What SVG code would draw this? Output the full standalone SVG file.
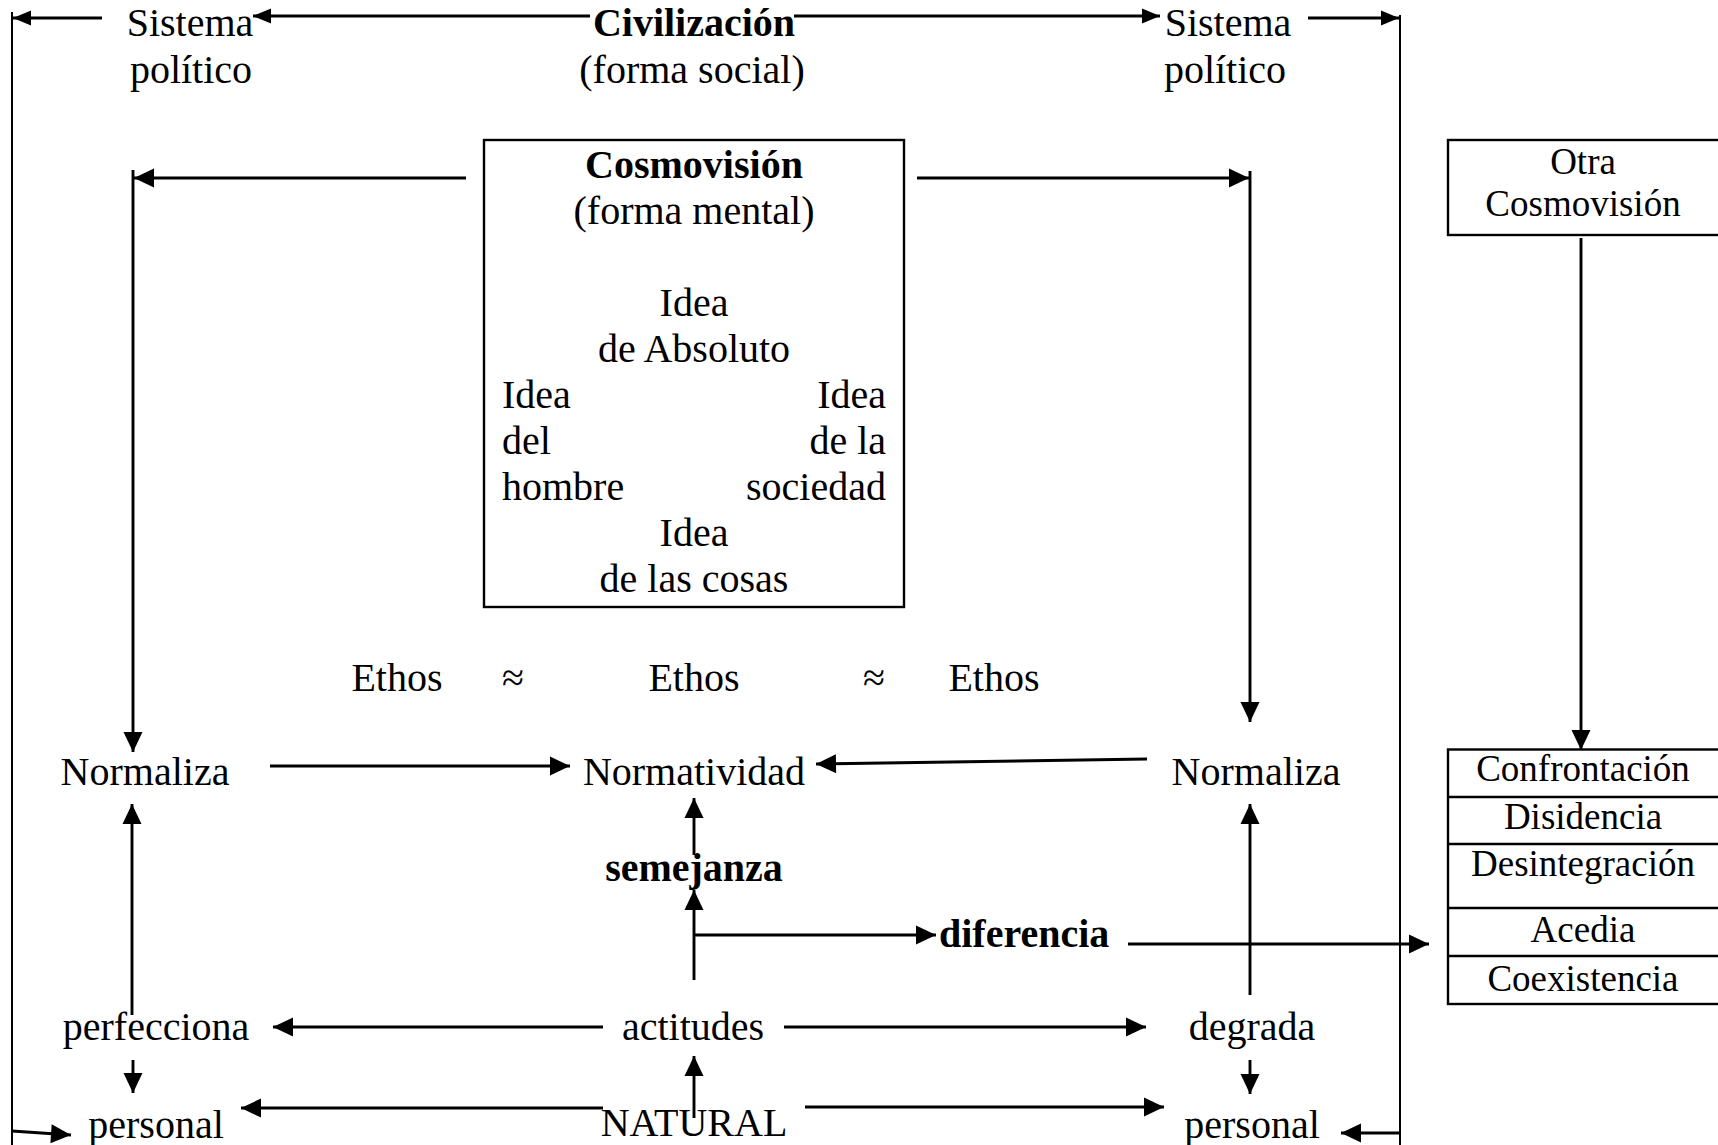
<svg xmlns="http://www.w3.org/2000/svg" width="1718" height="1145" viewBox="0 0 1718 1145">
<style>
text{font-family:"Liberation Serif","Times New Roman",serif;font-size:40px;fill:#000}
.c{text-anchor:middle}
.e{text-anchor:end}
.b{font-weight:bold}
.s{font-size:37px}
.ln{stroke:#000;stroke-width:2.6;fill:none}
.ar{stroke:#000;stroke-width:2.9;fill:none;marker-end:url(#ah)}
.at{stroke:#000;stroke-width:2.9;fill:none;marker-end:url(#ahs)}
.frame{stroke:#000;stroke-width:2;fill:none}
.box{stroke:#000;stroke-width:2.4;fill:#fff}
</style>
<defs>
<marker id="ah" markerUnits="userSpaceOnUse" markerWidth="21" markerHeight="20" refX="20" refY="9.5" orient="auto" overflow="visible">
<path d="M0,0 L20,9.5 L0,19 z" fill="#000"/>
</marker>
<marker id="ahs" markerUnits="userSpaceOnUse" markerWidth="19" markerHeight="16" refX="18" refY="7.5" orient="auto" overflow="visible">
<path d="M0,0 L18,7.5 L0,15 z" fill="#000"/>
</marker>
</defs>
<rect width="1718" height="1145" fill="#fff"/>

<g id="connectors">
<line class="frame" x1="12" y1="12" x2="12" y2="1145"/>
<line class="frame" x1="1400" y1="15" x2="1400" y2="1145"/>
<line class="at" x1="102" y1="18" x2="13" y2="18"/>
<line class="at" x1="590" y1="16" x2="253" y2="16"/>
<line class="at" x1="794" y1="16" x2="1160" y2="16"/>
<line class="at" x1="1308" y1="18" x2="1399" y2="18"/>
<line class="ar" x1="466" y1="178" x2="134" y2="178"/>
<line class="ar" x1="133" y1="170" x2="133" y2="752"/>
<line class="ar" x1="917" y1="178" x2="1249" y2="178"/>
<line class="ar" x1="1250" y1="171" x2="1250" y2="722"/>
<line class="ar" x1="1581" y1="238" x2="1581" y2="750"/>
<line class="ar" x1="270" y1="766" x2="570" y2="766"/>
<line class="ar" x1="1147" y1="759" x2="816" y2="764"/>
<line class="ar" x1="132" y1="1015" x2="132" y2="804"/>
<line class="ar" x1="1250" y1="995" x2="1250" y2="804"/>
<line class="ar" x1="694" y1="855" x2="694" y2="798"/>
<line class="ar" x1="694" y1="980" x2="694" y2="890"/>
<line class="ar" x1="694" y1="935" x2="936" y2="935"/>
<line class="ar" x1="1128" y1="944" x2="1429" y2="944"/>
<line class="ar" x1="603" y1="1027" x2="273" y2="1027"/>
<line class="ar" x1="784" y1="1027" x2="1146" y2="1027"/>
<line class="ar" x1="133" y1="1060" x2="133" y2="1093"/>
<line class="ar" x1="1250" y1="1060" x2="1250" y2="1094"/>
<line class="ar" x1="603" y1="1108" x2="241" y2="1108"/>
<line class="ar" x1="805" y1="1107" x2="1164" y2="1107"/>
<line class="ar" x1="694" y1="1118" x2="694" y2="1056"/>
<line class="ar" x1="12" y1="1131" x2="71" y2="1135"/>
<line class="ar" x1="1400" y1="1133" x2="1341" y2="1133"/>
</g>

<g id="sistema-izq">
<text class="c" x="190" y="36">Sistema</text>
<text class="c" x="191" y="83">político</text>
</g>
<g id="civilizacion">
<text class="c b" x="694" y="36">Civilización</text>
<text class="c" x="692" y="83">(forma social)</text>
</g>
<g id="sistema-der">
<text class="c" x="1228" y="36">Sistema</text>
<text class="c" x="1225" y="83">político</text>
</g>

<g id="cosmovision">
<rect class="box" x="484" y="140" width="420" height="467"/>
<text class="c b" x="694" y="178">Cosmovisión</text>
<text class="c" x="694" y="224">(forma mental)</text>
<text class="c" x="694" y="316">Idea</text>
<text class="c" x="694" y="362">de Absoluto</text>
<text x="502" y="408">Idea</text>
<text class="e" x="886" y="408">Idea</text>
<text x="502" y="454">del</text>
<text class="e" x="886" y="454">de la</text>
<text x="502" y="500">hombre</text>
<text class="e" x="886" y="500">sociedad</text>
<text class="c" x="694" y="546">Idea</text>
<text class="c" x="694" y="592">de las cosas</text>
</g>

<g id="otra-cosmovision">
<rect class="box" x="1448" y="140" width="290" height="95"/>
<text class="c s" x="1583" y="174">Otra</text>
<text class="c s" x="1583" y="216">Cosmovisión</text>
</g>

<g id="ethos">
<text class="c" x="397" y="691">Ethos</text>
<text class="c" x="513" y="691">≈</text>
<text class="c" x="694" y="691">Ethos</text>
<text class="c" x="874" y="691">≈</text>
<text class="c" x="994" y="691">Ethos</text>
</g>

<g id="normaliza-izq"><text class="c" x="145" y="785">Normaliza</text></g>
<g id="normatividad"><text class="c" x="694" y="785">Normatividad</text></g>
<g id="normaliza-der"><text class="c" x="1256" y="785">Normaliza</text></g>
<g id="semejanza"><text class="c b" x="694" y="881">semejanza</text></g>
<g id="diferencia"><text class="b" x="939" y="947">diferencia</text></g>

<g id="resultados">
<rect class="box" x="1448" y="749.5" width="290" height="254.5"/>
<line class="ln" x1="1448" y1="797" x2="1720" y2="797"/>
<line class="ln" x1="1448" y1="844" x2="1720" y2="844"/>
<line class="ln" x1="1448" y1="908" x2="1720" y2="908"/>
<line class="ln" x1="1448" y1="956" x2="1720" y2="956"/>
<text class="c s" x="1583" y="781">Confrontación</text>
<text class="c s" x="1583" y="829">Disidencia</text>
<text class="c s" x="1583" y="876">Desintegración</text>
<text class="c s" x="1583" y="942">Acedia</text>
<text class="c s" x="1583" y="991">Coexistencia</text>
</g>

<g id="perfecciona"><text class="c" x="156" y="1040">perfecciona</text></g>
<g id="actitudes"><text class="c" x="693" y="1040">actitudes</text></g>
<g id="degrada"><text class="c" x="1252" y="1040">degrada</text></g>
<g id="personal-izq"><text class="c" x="156" y="1138">personal</text></g>
<g id="natural"><text class="c" x="694" y="1136">NATURAL</text></g>
<g id="personal-der"><text class="c" x="1252" y="1138">personal</text></g>
</svg>
